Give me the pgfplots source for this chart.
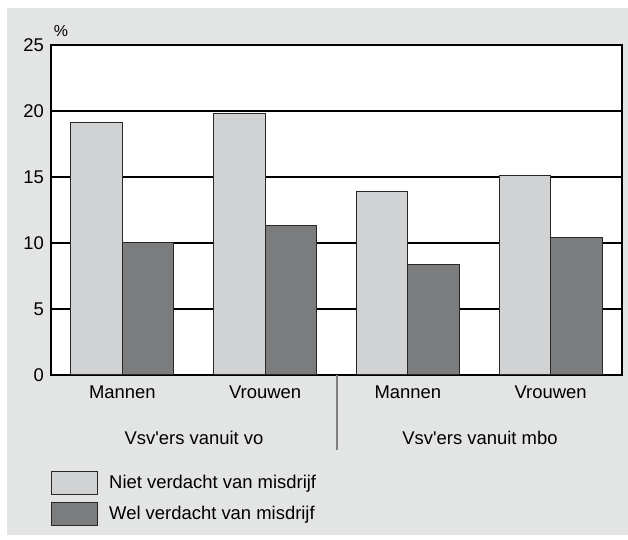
\documentclass[border=0pt]{standalone}
\usepackage{pgfplots}
\pgfplotsset{compat=1.18}
\usepackage{fontspec}
\setmainfont{Liberation Sans}
\definecolor{bg}{RGB}{227,228,228}
\definecolor{lightbar}{RGB}{209,210,212}
\definecolor{darkbar}{RGB}{123,124,126}
\definecolor{edge}{RGB}{40,40,40}
\begin{document}
\begin{tikzpicture}[x=1bp,y=1bp]
\useasboundingbox (0,0) rectangle (628,540);
\fill[white] (0,0) rectangle (628,540);
\fill[bg] (7,5) rectangle (628,532);
\begin{axis}[
  at={(51bp,165bp)}, anchor=south west,
  scale only axis, width=571bp, height=330bp,
  xmin=-0.5, xmax=3.5, ymin=0, ymax=25,
  ybar=0pt, bar width=51.5bp,
  axis background/.style={fill=white},
  xtick={0,1,2,3}, xticklabels={Mannen,Vrouwen,Mannen,Vrouwen},
  ytick={0,5,10,15,20,25},
  major tick length=0pt,
  ymajorgrids, grid style={black, line width=1.1bp},
  axis line style={black, line width=1.3bp},
  tick label style={font=\fontsize{18.5}{21}\selectfont},
  /pgf/number format/assume math mode=true,
  yticklabel style={inner sep=0pt, anchor=east, xshift=-7bp},
  xticklabel style={inner sep=0pt, anchor=north, yshift=-11bp},
]
\addplot[fill=lightbar, draw=edge, line width=1bp] coordinates {(0,19.1) (1,19.8) (2,13.9) (3,15.1)};
\addplot[fill=darkbar, draw=edge, line width=1bp] coordinates {(0,10.0) (1,11.3) (2,8.4) (3,10.4)};
\end{axis}
\node[font=\fontsize{16}{18}\selectfont] at (61,509) {\%};
\node[font=\fontsize{18.5}{21}\selectfont] at (194,102) {Vsv\textquotesingle ers vanuit vo};
\node[font=\fontsize{18.5}{21}\selectfont] at (480,102) {Vsv\textquotesingle ers vanuit mbo};
\draw[gray, line width=1.5bp] (337,165) -- (337,90);
\draw[edge, line width=1bp, fill=lightbar] (51,45) rectangle (97,68);
\draw[edge, line width=1bp, fill=darkbar] (51,14) rectangle (97,37);
\node[anchor=west, inner sep=0pt, font=\fontsize{18.5}{21}\selectfont] at (109,56.5) {Niet verdacht van misdrijf};
\node[anchor=west, inner sep=0pt, font=\fontsize{18.5}{21}\selectfont] at (109,25.5) {Wel verdacht van misdrijf};
\end{tikzpicture}
\end{document}
